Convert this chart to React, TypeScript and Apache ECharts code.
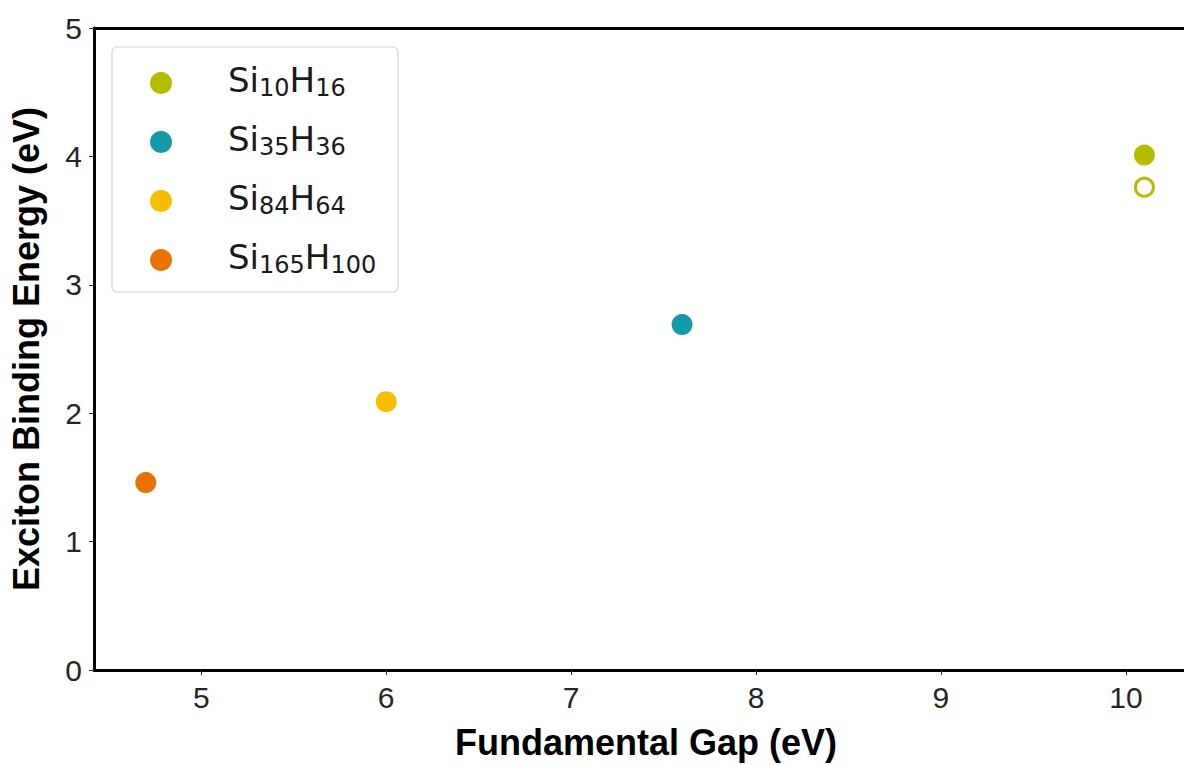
import React, { useEffect, useRef } from "react";
import * as echarts from "echarts";

const compounds = ["Si10H16", "Si35H36", "Si84H64", "Si165H100"];
const legendMain = [["Si", "H"], ["Si", "H"], ["Si", "H"], ["Si", "H"]];
const legendSubs = [["10", "16"], ["35", "36"], ["84", "64"], ["165", "100"]];
const colors = ["#b5bd00", "#1399a8", "#f6be00", "#e97300"];
const gaps = [10.1, 7.6, 6.0, 4.7];
const bindingEnergies = [4.01, 2.69, 2.09, 1.46];
const hollowGap = [10.1];
const hollowEnergy = [3.76];
const xTicks = [5, 6, 7, 8, 9, 10];
const xMin = 4.42;
const xMax = 10.39;
const yMin = 0;
const yMax = 5;

const TICK_FONT = "Liberation Sans, Arial, sans-serif";

export default function App() {
  const ref = useRef<HTMLDivElement>(null);
  useEffect(() => {
    if (!ref.current) return;
    const chart = echarts.init(ref.current, undefined, { renderer: "svg" });

    const series: any[] = compounds.map((name, i) => ({
      type: "scatter",
      name,
      data: [[gaps[i], bindingEnergies[i]]],
      symbol: "circle",
      symbolSize: 21,
      itemStyle: { color: colors[i], opacity: 1 },
      z: 5,
    }));
    series.push({
      type: "scatter",
      name: "Si10H16 (open)",
      data: hollowGap.map((g, i) => [g, hollowEnergy[i]]),
      symbol: "circle",
      symbolSize: 18,
      itemStyle: { color: "#ffffff", borderColor: colors[0], borderWidth: 3, opacity: 1 },
      z: 5,
    });

    const legendX = 112;
    const legendY = 47;
    const rowY = [83, 142, 201, 260];
    const legendChildren: any[] = [
      {
        type: "rect",
        shape: { x: legendX, y: legendY, width: 286, height: 245, r: 5 },
        style: { fill: "#ffffff", stroke: "#d4d4d4", lineWidth: 1.2 },
      },
    ];
    compounds.forEach((_, i) => {
      legendChildren.push({
        type: "circle",
        shape: { cx: 161, cy: rowY[i], r: 11 },
        style: { fill: colors[i] },
      });
      const [m1, m2] = legendMain[i];
      const [s1, s2] = legendSubs[i];
      legendChildren.push({
        type: "text",
        x: 228,
        y: rowY[i] - 3,
        style: {
          text: `{m|${m1}}{s|${s1}}{m|${m2}}{s|${s2}}`,
          verticalAlign: "middle",
          align: "left",
          rich: {
            m: {
              fontFamily: "DejaVu Sans",
              fontSize: 34,
              lineHeight: 42,
              fill: "#1a1a1a",
              verticalAlign: "middle",
            },
            s: {
              fontFamily: "DejaVu Sans",
              fontSize: 24,
              fill: "#1a1a1a",
              verticalAlign: "top",
              padding: [17, 0, 0, 0],
            },
          },
        },
      });
    });

    const axisLine = { show: true, lineStyle: { color: "#000000", width: 3 } };

    chart.setOption({
      animation: false,
      backgroundColor: "#ffffff",
      grid: { left: 93, top: 28, right: 2, bottom: 94, show: false, containLabel: false },
      xAxis: [
        {
          type: "value",
          min: xMin,
          max: xMax,
          position: "bottom",
          splitLine: { show: false },
          axisLine,
          axisTick: {
            show: true,
            customValues: xTicks,
            length: 5,
            lineStyle: { color: "#333", width: 1 },
          },
          axisLabel: {
            customValues: xTicks,
            fontFamily: TICK_FONT,
            fontSize: 30,
            color: "#262626",
            margin: 12,
          },
          name: "Fundamental Gap (eV)",
          nameLocation: "middle",
          nameGap: 54,
          nameTextStyle: {
            fontFamily: TICK_FONT,
            fontWeight: "bold",
            fontSize: 36,
            color: "#000000",
          },
        },
        {
          type: "value",
          min: xMin,
          max: xMax,
          position: "top",
          splitLine: { show: false },
          axisLine,
          axisTick: { show: false },
          axisLabel: { show: false },
        },
      ],
      yAxis: {
        type: "value",
        min: yMin,
        max: yMax,
        interval: 1,
        splitLine: { show: false },
        axisLine,
        axisTick: { show: true, length: 5, lineStyle: { color: "#333", width: 1 } },
        axisLabel: {
          fontFamily: TICK_FONT,
          fontSize: 30,
          color: "#262626",
          margin: 12,
        },
        name: "Exciton Binding Energy (eV)",
        nameLocation: "middle",
        nameGap: 50,
        nameTextStyle: {
          fontFamily: TICK_FONT,
          fontWeight: "bold",
          fontSize: 36,
          color: "#000000",
        },
      },
      series,
      graphic: [{ type: "group", children: legendChildren, z: 100 }],
    });

    return () => chart.dispose();
  }, []);

  return (
    <div
      style={{
        position: "absolute",
        left: 0,
        top: 0,
        width: 1184,
        height: 765,
        overflow: "hidden",
        background: "#fff",
      }}
    >
      <div ref={ref} style={{ width: 1200, height: 765 }} />
    </div>
  );
}
